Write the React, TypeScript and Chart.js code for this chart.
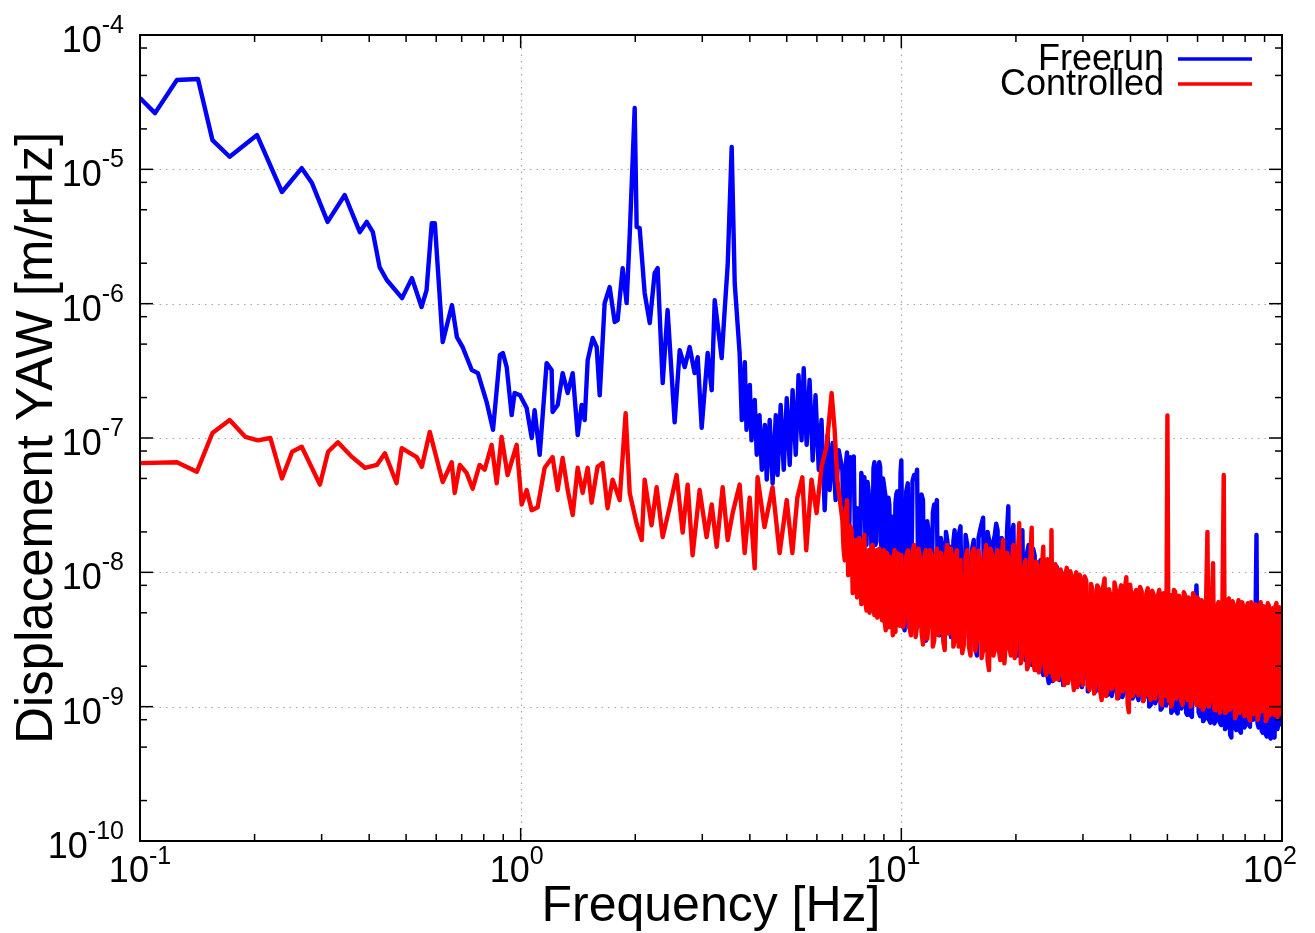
import React, { useEffect, useRef } from 'react';
import { Chart, registerables } from 'chart.js';

Chart.register(...registerables);

// ---------- data (values in nm/rHz, i.e. units of 1e-9 m/rHz) ----------
const freerunFreq = [
  0.1, 0.1095, 0.125, 0.142, 0.155, 0.172, 0.203, 0.236, 0.266, 0.283, 0.311, 0.345, 0.378, 0.394, 0.409, 0.426,
  0.445, 0.488, 0.518, 0.549, 0.566, 0.584, 0.595, 0.624, 0.66, 0.68, 0.704, 0.744, 0.772, 0.814, 0.846, 0.882,
  0.898, 0.919, 0.947, 0.964, 0.996, 1.037, 1.069, 1.088, 1.122, 1.17, 1.206, 1.213, 1.251, 1.289, 1.329, 1.37,
  1.412, 1.446, 1.473, 1.5, 1.546, 1.584, 1.613, 1.662, 1.713, 1.766, 1.798, 1.853, 1.898, 1.934, 1.993, 2.017,
  2.054, 2.117, 2.183, 2.249, 2.29, 2.361, 2.432, 2.538, 2.617, 2.697, 2.78, 2.864, 2.918, 2.989, 3.099, 3.176,
  3.234, 3.373, 3.435, 3.498, 3.584, 3.65, 3.76, 3.81, 3.88, 3.92, 4.0, 4.04, 4.12, 4.17, 4.24, 4.3, 4.38, 4.43,
  4.51, 4.59, 4.68, 4.73, 4.82, 4.91, 5.0, 5.09, 5.18, 5.28, 5.37, 5.47, 5.54, 5.64, 5.74, 5.85, 5.95, 6.07, 6.17,
  6.29, 6.4, 6.48, 6.6, 6.72, 6.85,
];
const freerunNm = [
  34000, 26200, 46200, 47000, 16500, 12400, 18000, 6780, 10200, 7900, 4060, 6440, 3410, 4060, 3410, 1870,
  1500, 1100, 1550, 944, 1260, 3980, 3980, 518, 977, 564, 475, 321, 304, 185, 115, 414,
  429, 337, 148, 216, 208, 167, 100, 161, 75, 361, 321, 156, 176, 304, 216, 304,
  105, 176, 136, 380, 555, 475, 208, 1010, 1330, 730, 755, 1840, 1010, 3240, 28600, 3720,
  3650, 1200, 718, 1690, 1840, 256, 896, 131, 451, 337, 475, 304, 400, 119, 429, 227,
  1060, 394, 896, 1940, 14700, 1420, 429, 136, 367, 115, 248, 96, 192, 75, 148, 58, 125, 49,
  136, 46, 148, 53, 176, 58, 198, 63, 227, 75, 294, 96, 331, 89, 270, 68, 208, 58, 136,
  29, 105, 41, 92, 34.5, 81,
];

const controlledFreq = [
  0.1, 0.125, 0.141, 0.155, 0.172, 0.189, 0.204, 0.22, 0.236, 0.251, 0.266, 0.297, 0.312, 0.331, 0.361, 0.39,
  0.419, 0.44, 0.472, 0.487, 0.533, 0.55, 0.577, 0.624, 0.659, 0.671, 0.692, 0.721, 0.748, 0.78, 0.804, 0.839,
  0.865, 0.891, 0.924, 0.976, 1.006, 1.037, 1.069, 1.108, 1.156, 1.213, 1.251, 1.289, 1.329, 1.37, 1.412, 1.455,
  1.5, 1.536, 1.592, 1.641, 1.692, 1.744, 1.82, 1.887, 1.934, 2.017, 2.08, 2.117, 2.207, 2.276, 2.361, 2.462,
  2.568, 2.664, 2.746, 2.829, 2.952, 3.079, 3.176, 3.273, 3.393, 3.498, 3.604, 3.761, 3.877, 3.996, 4.119, 4.191,
  4.371, 4.589, 4.789, 4.999, 5.173, 5.331, 5.494, 5.626, 5.808, 5.99, 6.17, 6.36, 6.56, 6.68, 6.79,
];
const controlledNm = [
  65, 66, 56, 109, 136, 102, 96, 100, 50, 79, 86, 45, 79, 93, 72, 60,
  63, 77, 46, 84, 72, 61, 111, 47, 66, 39, 63, 55, 42, 63, 58, 89,
  46, 102, 53, 89, 32, 41, 29, 30.5, 60, 72, 41, 71, 41, 26.7, 60, 39,
  60, 33, 61, 65, 30, 49, 34.5, 153, 39, 23, 17.4, 49, 22.4, 43, 18.3, 30.5,
  53, 19.8, 45, 13.4, 41, 18.3, 32, 15.5, 43, 17.4, 27.6, 45, 13.9, 36, 10.7, 51,
  21.7, 43, 13.9, 34.5, 13.9, 36, 51, 14.6, 49, 27.6, 61, 86, 216, 115, 49,
];

// dense part of both spectra (7 Hz - 100 Hz): main bins
const bandFreq = [
  7.0, 7.1, 7.2, 7.3, 7.4, 7.5, 7.6, 7.7, 7.8, 7.9, 8.0, 8.1, 8.2, 8.3, 8.4, 8.5, 8.6, 8.7, 8.8, 8.9, 9.0, 9.1,
  9.2, 9.3, 9.4, 9.5, 9.6, 9.7, 9.8, 9.9, 10.0,
  10.2, 10.4, 10.6, 10.8, 11.0, 11.2, 11.4, 11.6, 11.8, 12.0, 12.2, 12.4, 12.6, 12.8, 13.0, 13.2, 13.4, 13.6, 13.8, 14.0,
  14.3, 14.6, 14.9, 15.2, 15.5, 15.8, 16.1, 16.4, 16.7, 17.0, 17.3, 17.6, 17.9, 18.2, 18.5, 18.8, 19.1, 19.4, 19.7, 20.0,
  20.4, 20.8, 21.2, 21.6, 22.0, 22.4, 22.8, 23.2, 23.6, 24.0, 24.4, 24.8, 25.2, 25.6, 26.0, 26.4, 26.8, 27.2, 27.6,
  28.0, 28.4, 28.8, 29.2, 29.6, 30.0,
  30.6, 31.2, 31.8, 32.4, 33.0, 33.6, 34.2, 34.8, 35.4, 36.0, 36.6, 37.2, 37.8, 38.4, 39.0, 39.6, 40.2, 40.8, 41.4, 42.0,
  42.8, 43.6, 44.4, 45.2, 46.0, 46.8, 47.6, 48.4, 49.2, 50.0, 50.8, 51.6, 52.4, 53.2, 54.0, 54.8, 55.6, 56.4, 57.2,
  58.0, 58.8, 59.6, 60.4,
  61.5, 62.6, 63.7, 64.8, 65.9, 67.0, 68.1, 69.2, 70.3, 71.4, 72.5, 73.6, 74.7, 75.8, 76.9, 78.0, 79.1, 80.2, 81.3,
  82.4, 83.5, 84.6, 85.7, 86.8, 87.9, 89.0, 90.1, 91.2, 92.3, 93.4, 94.5, 95.6, 96.7, 97.8, 98.9, 100.0,
];
// in-between bins (each lies between bandFreq[i] and bandFreq[i+1])
const bandMidFreq = [
  7.05, 7.15, 7.25, 7.35, 7.45, 7.55, 7.65, 7.75, 7.85, 7.95, 8.05, 8.15, 8.25, 8.35, 8.45, 8.55, 8.65, 8.75, 8.85,
  8.95, 9.05, 9.15, 9.25, 9.35, 9.45, 9.55, 9.65, 9.75, 9.85, 9.95,
  10.1, 10.3, 10.5, 10.7, 10.9, 11.1, 11.3, 11.5, 11.7, 11.9, 12.1, 12.3, 12.5, 12.7, 12.9, 13.1, 13.3, 13.5, 13.7, 13.9,
  14.15, 14.45, 14.75, 15.05, 15.35, 15.65, 15.95, 16.25, 16.55, 16.85, 17.15, 17.45, 17.75, 18.05, 18.35, 18.65,
  18.95, 19.25, 19.55, 19.85,
  20.2, 20.6, 21.0, 21.4, 21.8, 22.2, 22.6, 23.0, 23.4, 23.8, 24.2, 24.6, 25.0, 25.4, 25.8, 26.2, 26.6, 27.0, 27.4,
  27.8, 28.2, 28.6, 29.0, 29.4, 29.8,
  30.3, 30.9, 31.5, 32.1, 32.7, 33.3, 33.9, 34.5, 35.1, 35.7, 36.3, 36.9, 37.5, 38.1, 38.7, 39.3, 39.9, 40.5, 41.1, 41.7,
  42.4, 43.2, 44.0, 44.8, 45.6, 46.4, 47.2, 48.0, 48.8, 49.6, 50.4, 51.2, 52.0, 52.8, 53.6, 54.4, 55.2, 56.0, 56.8,
  57.6, 58.4, 59.2, 60.0,
  60.95, 62.05, 63.15, 64.25, 65.35, 66.45, 67.55, 68.65, 69.75, 70.85, 71.95, 73.05, 74.15, 75.25, 76.35, 77.45,
  78.55, 79.65, 80.75, 81.85, 82.95, 84.05, 85.15, 86.25, 87.35, 88.45, 89.55, 90.65, 91.75, 92.85, 93.95, 95.05,
  96.15, 97.25, 98.35, 99.45,
];

const freerunBandNm = [
  58, 20, 78, 22, 68, 73, 18, 27.5, 15, 49, 51, 16, 41, 26, 14, 66, 17, 58, 61, 15, 45, 36, 13, 32, 14,
  22, 12, 38, 34.5, 11, 68,
  3.7, 46, 4.4, 53, 58, 4.0, 34.5, 3.1, 19.8, 4.8, 32, 34.5, 3.4, 15.5, 2.9, 17.4, 15.5, 3.7, 20.6, 4.4,
  22, 3.1, 16, 2.9, 17.4, 2.4, 20.6, 25.5, 2.64, 17.4, 3.1, 19, 20.6, 2.9, 16, 3.7, 31, 3.1, 22.5, 2.64,
  2.64, 20.6, 2.22, 16, 2.05, 13.4, 1.87, 12.3, 1.72, 10.4, 1.5, 8.7, 1.72, 11, 1.58, 9.9, 1.58, 9.0, 1.72, 7.4,
  1.58, 6.8, 1.45, 6.2, 1.58,
  5.7, 1.37, 5.2, 1.3, 6.2, 1.45, 5.1, 1.22, 5.7, 1.33, 4.8, 1.16, 5.4, 1.3, 5.1, 1.12, 5.2, 1.22, 4.8, 1.12,
  5.1, 1.18, 4.8, 1.03, 5.2, 1.12, 4.6, 0.98, 5.1, 1.08, 4.8, 0.94, 4.6, 0.89, 5.1, 1.03, 4.4, 0.87, 4.8, 0.84,
  4.4, 8.0, 0.91,
  4.4, 0.81, 4.6, 0.76, 4.4, 0.79, 4.2, 0.73, 4.6, 0.7, 4.0, 0.59, 4.4, 0.67, 4.0, 0.64, 4.2, 0.73, 3.8, 0.71,
  4.0, 0.87, 19, 0.7, 4.0, 0.64, 3.8, 0.6, 4.0, 0.58, 3.7, 0.59, 3.8, 0.73, 3.7, 0.79,
];
const freerunBandMidNm = [
  19, 64, 21, 72, 62, 19, 30, 17, 55, 46, 17, 47, 30, 15, 60, 16, 52, 66, 16, 50, 40, 14, 36, 13, 26, 13, 33, 40,
  12, 55,
  4.2, 40, 3.9, 48, 50, 4.4, 38, 3.5, 24, 4.2, 28, 30, 3.8, 18, 3.2, 20, 14, 3.3, 17, 3.9,
  19, 2.8, 19, 3.3, 15, 2.7, 18, 23, 3.0, 20, 2.7, 17, 23, 3.3, 18, 3.0, 20, 3.4, 19, 2.9,
  2.4, 17, 2.5, 14, 2.3, 15, 2.0, 11, 1.95, 11.5, 1.7, 9.5, 1.55, 9.0, 1.75, 8.6, 1.45, 8.0, 1.6, 7.8, 1.7, 7.2,
  1.55, 6.6, 1.4,
  6.0, 1.3, 5.5, 1.4, 5.8, 1.35, 5.4, 1.25, 5.9, 1.2, 5.0, 1.28, 5.6, 1.18, 4.9, 1.24, 5.3, 1.15, 5.0, 1.2,
  4.9, 1.1, 5.0, 1.0, 4.9, 1.06, 4.7, 0.95, 4.9, 1.02, 4.6, 0.9, 4.8, 0.92, 4.7, 0.97, 4.5, 0.9, 4.6, 0.86, 4.5,
  4.6, 4.3,
  0.85, 0.78, 4.3, 0.8, 4.5, 0.75, 4.1, 0.76, 4.3, 0.68, 4.2, 0.62, 4.1, 0.7, 4.3, 0.66, 3.9, 0.7, 4.0, 0.74, 3.9,
  0.8, 4.0, 0.75, 3.8, 0.66, 4.0, 0.62, 3.7, 0.6, 3.9, 0.62, 3.6, 0.68, 3.9, 0.74,
];

const controlledBandNm = [
  24.5, 12.3, 34.5, 11.3, 20.6, 8.0, 17.4, 7.4, 16, 6.2, 19, 5.2, 14.6, 6.8, 16, 4.8, 14.6, 5.7, 12.3, 4.4, 14.6,
  3.7, 13.4, 5.2, 12.3, 3.4, 14.6, 6.2, 11.3, 4.0, 13.4,
  4.4, 14.6, 3.4, 16, 4.0, 12.3, 2.9, 14.6, 4.4, 13.4, 3.1, 15, 3.7, 12.3, 2.64, 16, 4.0, 12.3, 3.1, 14.6,
  12.3, 2.9, 14.6, 2.4, 15, 3.1, 12.3, 2.64, 16, 1.87, 13.4, 2.64, 14.6, 2.22, 17.4, 2.9, 12.8, 2.4, 16, 2.64,
  23.2, 2.4, 12.3, 2.05, 21.5, 1.87, 11.3, 2.22, 15.5, 1.72, 10.8, 20.6, 1.58, 10.4, 1.87, 9.5, 1.45, 10.8, 1.72,
  9.0, 1.33, 10.0, 1.58, 8.7, 1.45,
  8.7, 1.33, 7.4, 1.45, 7.6, 1.12, 9.0, 1.33, 6.8, 1.45, 7.4, 1.22, 8.0, 1.37, 9.2, 0.91, 6.8, 1.33, 7.4, 1.22,
  7.2, 1.22, 7.6, 1.12, 6.8, 1.33, 7.4, 1.03, 6.4, 147, 6.8, 1.12, 7.2, 1.22, 6.4, 1.03, 6.8, 1.12, 6.2, 1.33,
  6.6, 1.03, 6.2,
  6.2, 1.03, 20, 1.12, 11.7, 0.94, 6.0, 1.03, 53, 0.91, 6.4, 1.03, 5.7, 0.87, 6.2, 0.98, 5.6, 0.91, 5.9, 0.79,
  5.7, 0.94, 5.4, 0.87, 6.0, 0.98, 5.2, 0.81, 5.7, 0.91, 5.4, 0.87, 5.9, 0.94, 5.2, 0.91,
];
const controlledBandMidNm = [
  15, 28, 9.5, 22, 7.0, 15, 6.5, 18, 5.8, 15.5, 6.0, 13.5, 5.0, 15, 5.4, 13, 4.6, 15, 5.0, 12.8, 4.2, 14, 3.9, 13,
  4.6, 12, 3.6, 13.8, 4.8, 12.5,
  3.9, 13.2, 3.9, 14, 3.3, 15, 3.6, 13, 3.2, 14.6, 2.8, 12.8, 3.4, 14, 3.0, 13.6, 3.5, 15, 2.8, 13,
  2.8, 2.5, 13, 2.8, 13.8, 2.6, 14.5, 2.3, 12.8, 2.2, 15, 2.4, 13, 2.6, 12.5, 2.1, 14, 2.7, 12, 2.3,
  12, 2.1, 11, 1.9, 11.5, 2.2, 12, 1.8, 11, 2.0, 12.5, 1.8, 1.7, 11.5, 1.6, 10.5, 1.7, 9.8, 1.5, 10.2, 1.6, 9.3,
  1.4, 9.6, 1.55,
  9.3, 1.45, 8.2, 1.25, 8.0, 1.3, 7.8, 1.2, 7.5, 1.35, 8.4, 1.15, 7.2, 1.3, 7.7, 1.05, 8.1, 1.2, 7.0, 1.28,
  7.8, 1.1, 6.9, 1.2, 7.3, 1.15, 6.6, 1.08, 7.0, 1.2, 1.1, 1.0, 7.4, 1.15, 6.7, 1.1, 7.1, 1.25, 6.5, 1.0, 7.0,
  1.15, 6.5,
  1.0, 0.95, 5.8, 1.0, 5.5, 0.95, 5.6, 0.9, 6.2, 0.9, 5.8, 0.95, 6.1, 0.82, 5.5, 0.9, 6.0, 0.85, 5.4, 0.83, 6.0,
  0.88, 5.8, 0.8, 5.5, 0.92, 5.6, 0.78, 5.9, 0.86, 5.3, 0.9, 5.6, 0.84, 5.5, 0.88,
];

const seriesLabels = ['Freerun', 'Controlled'];
const seriesColors = ['#0000ff', '#ff0000'];
const xTickExponents = [-1, 0, 1, 2];
const yTickExponents = [-10, -9, -8, -7, -6, -5, -4];
const xGridValues = [1, 10];
const yGridValues = [1e-9, 1e-8, 1e-7, 1e-6, 1e-5];
const xMinorMultipliers = [2, 3, 4, 5, 6, 7, 8, 9];
const yMinorMultipliers = [2, 5, 8];
const xTitle = 'Frequency [Hz]';
const yTitle = 'Displacement YAW [m/rHz]';

const NM = 1e-9;
const FONT = '"Liberation Sans", Arial, Helvetica, sans-serif';
const LINE_W = 4.4;

function toPoints(freq: number[], nm: number[]) {
  return freq.map((f, i) => ({ x: f, y: nm[i] * NM }));
}

function bandPoints(nm: number[], midNm: number[]) {
  const pts: { x: number; y: number }[] = [];
  bandFreq.forEach((f, i) => {
    pts.push({ x: f, y: nm[i] * NM });
    if (i < bandMidFreq.length) pts.push({ x: bandMidFreq[i], y: midNm[i] * NM });
  });
  return pts;
}

function drawPower(ctx: CanvasRenderingContext2D, exp: number, left: number, baseY: number, raise: number) {
  ctx.font = `36px ${FONT}`;
  const wm = ctx.measureText('10').width;
  ctx.fillText('10', left, baseY);
  ctx.font = `25px ${FONT}`;
  ctx.fillText(String(exp), left + wm, baseY - raise);
}

function powerWidth(ctx: CanvasRenderingContext2D, exp: number) {
  ctx.font = `36px ${FONT}`;
  const wm = ctx.measureText('10').width;
  ctx.font = `25px ${FONT}`;
  return wm + ctx.measureText(String(exp)).width;
}

const framePlugin = {
  id: 'gnuplotFrame',
  beforeDatasetsDraw(chart: any) {
    const { ctx, chartArea: a, scales } = chart;
    ctx.save();
    ctx.strokeStyle = '#a6a6a6';
    ctx.lineWidth = 1.2;
    ctx.setLineDash([1.5, 5]);
    for (const v of xGridValues) {
      const px = Math.round(scales.x.getPixelForValue(v)) + 0.5;
      ctx.beginPath();
      ctx.moveTo(px, a.top);
      ctx.lineTo(px, a.bottom);
      ctx.stroke();
    }
    for (const v of yGridValues) {
      const py = Math.round(scales.y.getPixelForValue(v)) + 0.5;
      ctx.beginPath();
      ctx.moveTo(a.left, py);
      ctx.lineTo(a.right, py);
      ctx.stroke();
    }
    ctx.restore();
  },
  afterDatasetsDraw(chart: any) {
    const { ctx, chartArea: a, scales } = chart;
    const xs = scales.x;
    const ys = scales.y;
    ctx.save();
    ctx.setLineDash([]);
    ctx.strokeStyle = '#000';
    ctx.fillStyle = '#000';

    ctx.lineWidth = 1.5;
    const major = 13;
    const minor = 7;
    const line = (x1: number, y1: number, x2: number, y2: number) => {
      ctx.beginPath();
      ctx.moveTo(x1, y1);
      ctx.lineTo(x2, y2);
      ctx.stroke();
    };
    for (const e of xTickExponents) {
      const base = Math.pow(10, e);
      const px = xs.getPixelForValue(base);
      line(px, a.bottom, px, a.bottom - major);
      line(px, a.top, px, a.top + major);
      if (e < xTickExponents[xTickExponents.length - 1]) {
        for (const m of xMinorMultipliers) {
          const q = xs.getPixelForValue(m * base);
          line(q, a.bottom, q, a.bottom - minor);
          line(q, a.top, q, a.top + minor);
        }
      }
    }
    for (const e of yTickExponents) {
      const base = Math.pow(10, e);
      const py = ys.getPixelForValue(base);
      line(a.left, py, a.left + major, py);
      line(a.right, py, a.right - major, py);
      if (e < yTickExponents[yTickExponents.length - 1]) {
        for (const m of yMinorMultipliers) {
          const q = ys.getPixelForValue(m * base);
          line(a.left, q, a.left + minor, q);
          line(a.right, q, a.right - minor, q);
        }
      }
    }

    ctx.lineWidth = 2;
    ctx.strokeRect(a.left, a.top, a.right - a.left, a.bottom - a.top);

    ctx.textAlign = 'left';
    ctx.textBaseline = 'alphabetic';
    for (const e of yTickExponents) {
      const py = ys.getPixelForValue(Math.pow(10, e));
      const w = powerWidth(ctx, e);
      drawPower(ctx, e, a.left - 16 - w, py + 17, 19);
    }
    for (const e of xTickExponents) {
      const px = xs.getPixelForValue(Math.pow(10, e));
      const w = powerWidth(ctx, e);
      const shift = -(e + 1) * 4;
      drawPower(ctx, e, px - w / 2 + shift, a.bottom + 41, 18);
    }

    ctx.font = `50px ${FONT}`;
    ctx.textAlign = 'center';
    ctx.fillText(xTitle, (a.left + a.right) / 2, a.bottom + 80);
    ctx.save();
    ctx.translate(a.left - 88, (a.top + a.bottom) / 2);
    ctx.rotate(-Math.PI / 2);
    ctx.font = `51px ${FONT}`;
    ctx.fillText(yTitle, 0, 0);
    ctx.restore();

    ctx.font = `36px ${FONT}`;
    ctx.textAlign = 'right';
    seriesLabels.forEach((label, i) => {
      const cy = a.top + 24 + i * 25;
      ctx.fillStyle = '#000';
      ctx.fillText(label, a.right - 118, cy + 11);
      ctx.strokeStyle = seriesColors[i];
      ctx.lineWidth = 3.5;
      line(a.right - 104, cy, a.right - 30, cy);
    });
    ctx.restore();
  },
};

export default function App() {
  const canvasRef = useRef<HTMLCanvasElement | null>(null);

  useEffect(() => {
    const canvas = canvasRef.current;
    if (!canvas) return;
    const freerun = [...toPoints(freerunFreq, freerunNm), ...bandPoints(freerunBandNm, freerunBandMidNm)];
    const controlled = [
      ...toPoints(controlledFreq, controlledNm),
      ...bandPoints(controlledBandNm, controlledBandMidNm),
    ];
    const chart = new Chart(canvas, {
      type: 'line',
      data: {
        datasets: [
          {
            label: seriesLabels[0],
            data: freerun,
            borderColor: seriesColors[0],
            backgroundColor: seriesColors[0],
            borderWidth: LINE_W,
            pointRadius: 0,
            tension: 0,
            borderJoinStyle: 'round',
            fill: false,
            order: 2,
          },
          {
            label: seriesLabels[1],
            data: controlled,
            borderColor: seriesColors[1],
            backgroundColor: seriesColors[1],
            borderWidth: LINE_W,
            pointRadius: 0,
            tension: 0,
            borderJoinStyle: 'round',
            fill: false,
            order: 1,
          },
        ],
      },
      options: {
        animation: false,
        responsive: false,
        devicePixelRatio: 1,
        events: [],
        layout: { padding: { left: 140, top: 35, right: 33, bottom: 92 } },
        scales: {
          x: { type: 'logarithmic', min: 0.1, max: 100, display: false },
          y: { type: 'logarithmic', min: 1e-10, max: 1e-4, display: false },
        },
        plugins: { legend: { display: false }, tooltip: { enabled: false } },
      },
      plugins: [framePlugin],
    } as any);
    return () => chart.destroy();
  }, []);

  return (
    <div style={{ position: 'absolute', left: 0, top: 0, width: 1315, height: 933, background: '#fff' }}>
      <canvas ref={canvasRef} width={1315} height={933} style={{ display: 'block' }} />
    </div>
  );
}
